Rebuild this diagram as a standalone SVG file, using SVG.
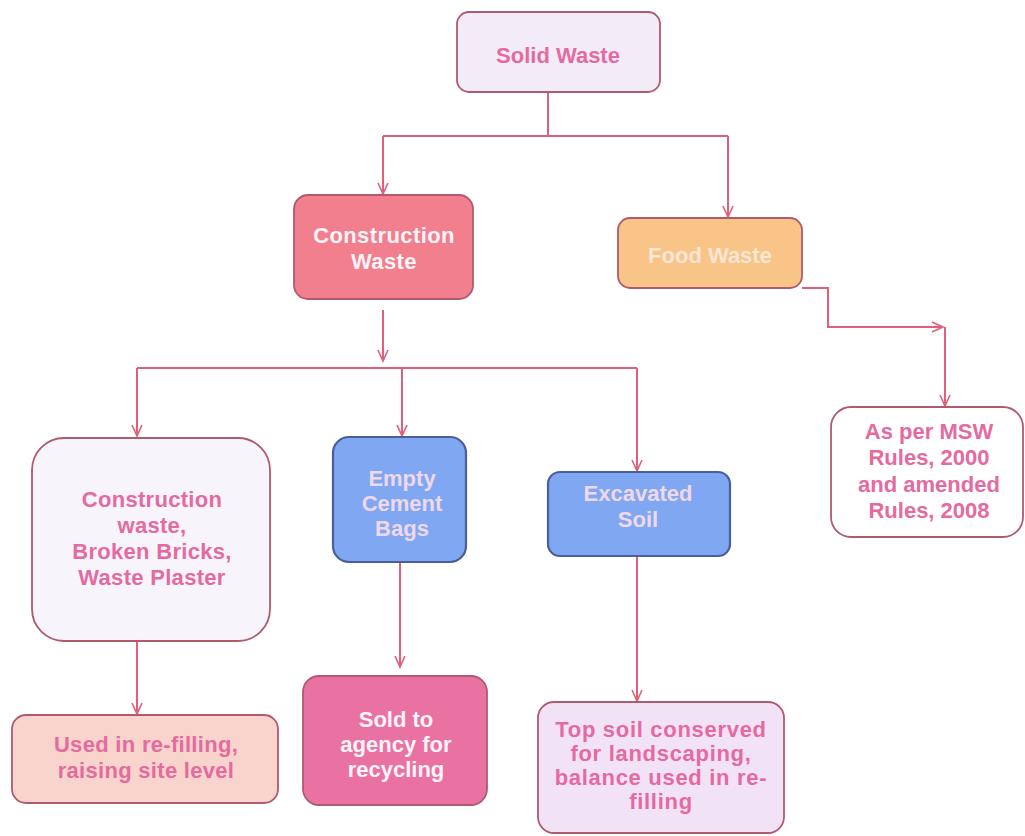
<svg xmlns="http://www.w3.org/2000/svg" width="1025" height="836" viewBox="0 0 1025 836">
<defs>
<marker id="arr" markerWidth="14" markerHeight="14" refX="12" refY="7" orient="auto" markerUnits="userSpaceOnUse">
<path d="M1,2 L12,7 L1,12" fill="none" stroke="#e0607a" stroke-width="1.6"/>
</marker>
</defs>
<style>
.box{stroke:#b05a6e;stroke-width:1.8}
.t{font-family:"Liberation Sans",Arial,sans-serif;font-weight:bold;text-anchor:middle;font-size:22px}
.pk{fill:#e46aa0}
.wh{fill:#fff4f8}
.bl{fill:#f0d8ec}
.c{fill:none;stroke:#e0607a;stroke-width:2}
</style>
<rect width="1025" height="836" fill="#ffffff"/>
<g id="connectors">
<path class="c" d="M548,92 V136"/>
<path class="c" d="M383,136 H728"/>
<path class="c" d="M383,136 V194" marker-end="url(#arr)"/>
<path class="c" d="M728,136 V217" marker-end="url(#arr)"/>
<path class="c" d="M802,288 H828 V327 H943" marker-end="url(#arr)"/>
<path class="c" d="M945,327 V406" marker-end="url(#arr)"/>
<path class="c" d="M383,310 V361" marker-end="url(#arr)"/>
<path class="c" d="M137,368 H637"/>
<path class="c" d="M137,368 V436" marker-end="url(#arr)"/>
<path class="c" d="M402,368 V436" marker-end="url(#arr)"/>
<path class="c" d="M637,368 V471" marker-end="url(#arr)"/>
<path class="c" d="M137,641 V714" marker-end="url(#arr)"/>
<path class="c" d="M400,562 V667" marker-end="url(#arr)"/>
<path class="c" d="M637,556 V701" marker-end="url(#arr)"/>
</g>
<g id="solid-waste">
<rect class="box" x="457" y="12" width="203" height="80" rx="12" fill="#f3ecf8"/>
<text class="t pk" x="558" y="63" font-size="23">Solid Waste</text>
</g>
<g id="construction-waste">
<rect class="box" x="294" y="195" width="179" height="104" rx="14" fill="#f27f8e"/>
<text class="t wh" letter-spacing="0.4"><tspan x="384" y="243">Construction</tspan><tspan x="384" y="269">Waste</tspan></text>
</g>
<g id="food-waste">
<rect class="box" x="618" y="218" width="184" height="70" rx="12" fill="#f8c488"/>
<text class="t" x="710" y="263" fill="#fbe6d6">Food Waste</text>
</g>
<g id="msw-rules">
<rect class="box" x="831" y="407" width="192" height="130" rx="20" fill="#ffffff"/>
<text class="t pk"><tspan x="929" y="439">As per MSW</tspan><tspan x="929" y="465">Rules, 2000</tspan><tspan x="929" y="492">and amended</tspan><tspan x="929" y="518">Rules, 2008</tspan></text>
</g>
<g id="construction-debris">
<rect class="box" x="32" y="438" width="238" height="203" rx="32" fill="#f8f4fb"/>
<text class="t pk" letter-spacing="0.3"><tspan x="152" y="507">Construction</tspan><tspan x="152" y="533">waste,</tspan><tspan x="152" y="559">Broken Bricks,</tspan><tspan x="152" y="585">Waste Plaster</tspan></text>
</g>
<g id="cement-bags">
<rect x="333" y="437" width="133" height="125" rx="16" fill="#80a8f2" stroke="#4a5e9a" stroke-width="2.2"/>
<text class="t bl" font-size="21"><tspan x="402" y="486">Empty</tspan><tspan x="402" y="511">Cement</tspan><tspan x="402" y="536">Bags</tspan></text>
</g>
<g id="excavated-soil">
<rect x="548" y="472" width="182" height="84" rx="12" fill="#80a8f2" stroke="#4a5e9a" stroke-width="2.2"/>
<text class="t bl"><tspan x="638" y="501">Excavated</tspan><tspan x="638" y="527">Soil</tspan></text>
</g>
<g id="refilling">
<rect class="box" x="12" y="715" width="266" height="88" rx="14" fill="#f9d4cc"/>
<text class="t pk" letter-spacing="0.3"><tspan x="146" y="752">Used in re-filling,</tspan><tspan x="146" y="778">raising site level</tspan></text>
</g>
<g id="recycling">
<rect class="box" x="303" y="676" width="184" height="129" rx="16" fill="#ea72a2"/>
<text class="t wh"><tspan x="396" y="727">Sold to</tspan><tspan x="396" y="752">agency for</tspan><tspan x="396" y="777">recycling</tspan></text>
</g>
<g id="topsoil">
<rect class="box" x="538" y="702" width="246" height="131" rx="16" fill="#f2e2f6"/>
<text class="t pk" font-size="20" letter-spacing="0.7"><tspan x="661" y="737">Top soil conserved</tspan><tspan x="661" y="761">for landscaping,</tspan><tspan x="661" y="785">balance used in re-</tspan><tspan x="661" y="809">filling</tspan></text>
</g>
</svg>
